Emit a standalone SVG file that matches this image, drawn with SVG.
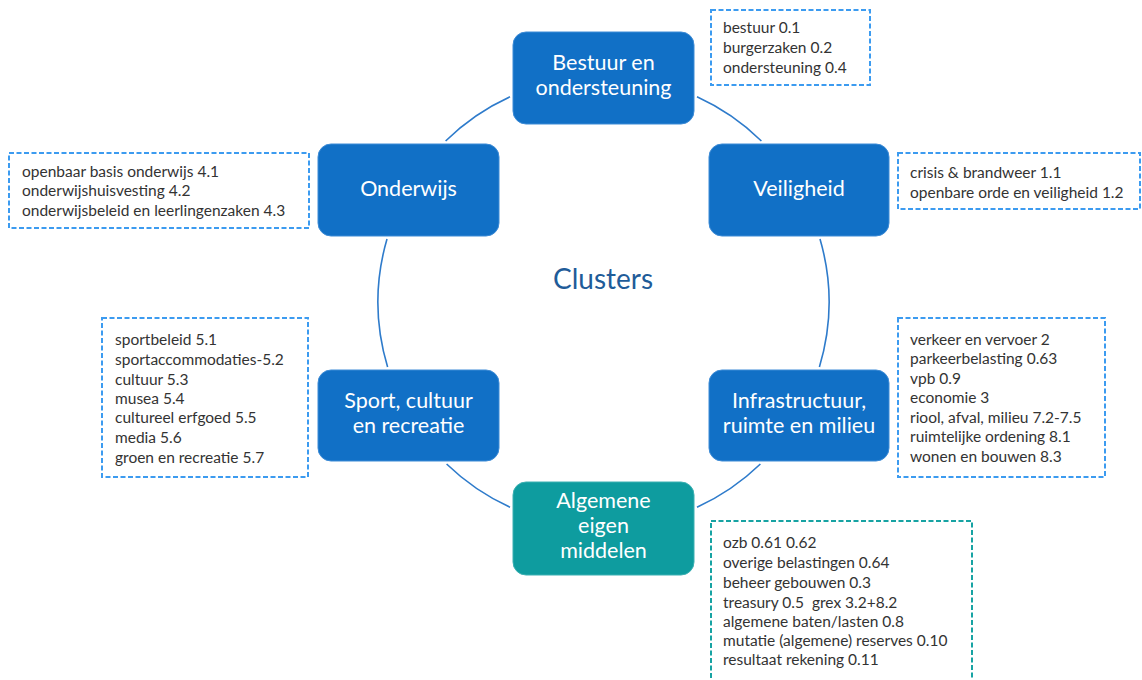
<svg xmlns="http://www.w3.org/2000/svg" width="1142" height="680" viewBox="0 0 1142 680">
<style>
.blue{fill:#1170C6;stroke:#3d8bd6;stroke-width:1}
.teal{fill:#0E9C9F;stroke:#3bb0b2;stroke-width:1}
.nt{font-family:Lato,"Open Sans",sans-serif;font-size:21.5px;fill:#fff;text-anchor:middle}
.note{fill:#fff;stroke:#3C9BF0;stroke-width:2;stroke-dasharray:5 2.5}
.noteT{fill:#fff;stroke:#17A3A3;stroke-width:2;stroke-dasharray:5 2.5}
.lt{font-family:Lato,"Open Sans",sans-serif;font-size:15.5px;fill:#333}
.arc{fill:none;stroke:#2E7BCB;stroke-width:1.6}
</style>
<rect width="1142" height="680" fill="#fff"/>
<g id="connectors">
<path class="arc" d="M697,96.8 A225.5,225.5 0 0 1 761.4,141"/>
<path class="arc" d="M820,239 A225.5,225.5 0 0 1 819.4,367"/>
<path class="arc" d="M760.4,464 A225.5,225.5 0 0 1 697,507.2"/>
<path class="arc" d="M510,507.2 A225.5,225.5 0 0 1 446.6,464"/>
<path class="arc" d="M387.6,367 A225.5,225.5 0 0 1 387,239"/>
<path class="arc" d="M445.6,141 A225.5,225.5 0 0 1 510,96.8"/>
</g>
<g id="center-label"><text x="603" y="289" font-family="Lato,'Open Sans',sans-serif" font-size="28" fill="#1F5C99" text-anchor="middle">Clusters</text></g>
<g id="node-bestuur">
<rect class="blue" x="513" y="32" width="181" height="92" rx="13"/>
<text class="nt" x="603.5" y="70">Bestuur en</text>
<text class="nt" x="603.5" y="95">ondersteuning</text>
</g>
<g id="node-onderwijs">
<rect class="blue" x="318" y="144" width="181" height="92" rx="13"/>
<text class="nt" x="408.5" y="196">Onderwijs</text>
</g>
<g id="node-veiligheid">
<rect class="blue" x="709" y="144" width="180" height="92" rx="13"/>
<text class="nt" x="799" y="196">Veiligheid</text>
</g>
<g id="node-sport">
<rect class="blue" x="318" y="370" width="181" height="91" rx="13"/>
<text class="nt" x="408.5" y="408">Sport, cultuur</text>
<text class="nt" x="408.5" y="433">en recreatie</text>
</g>
<g id="node-infra">
<rect class="blue" x="709" y="370" width="180" height="91" rx="13"/>
<text class="nt" x="799" y="408">Infrastructuur,</text>
<text class="nt" x="799" y="433">ruimte en milieu</text>
</g>
<g id="node-algemene">
<rect class="teal" x="513" y="482" width="181" height="93" rx="13"/>
<text class="nt" x="603.5" y="508">Algemene</text>
<text class="nt" x="603.5" y="533">eigen</text>
<text class="nt" x="603.5" y="558">middelen</text>
</g>
<g id="note-bestuur">
<rect class="note" x="711" y="10" width="159" height="75"/>
<text class="lt" x="723" y="33">bestuur 0.1</text>
<text class="lt" x="723" y="53">burgerzaken 0.2</text>
<text class="lt" x="723" y="73">ondersteuning 0.4</text>
</g>
<g id="note-onderwijs">
<rect class="note" x="9" y="153" width="300" height="75"/>
<text class="lt" x="22" y="177">openbaar basis onderwijs 4.1</text>
<text class="lt" x="22" y="196">onderwijshuisvesting 4.2</text>
<text class="lt" x="22" y="216">onderwijsbeleid en leerlingenzaken 4.3</text>
</g>
<g id="note-veiligheid">
<rect class="note" x="898" y="153" width="242" height="56"/>
<text class="lt" x="910" y="178">crisis &amp; brandweer 1.1</text>
<text class="lt" x="910" y="198">openbare orde en veiligheid 1.2</text>
</g>
<g id="note-sport">
<rect class="note" x="102" y="318" width="206" height="159"/>
<text class="lt" x="115" y="345">sportbeleid 5.1</text>
<text class="lt" x="115" y="365">sportaccommodaties-5.2</text>
<text class="lt" x="115" y="385">cultuur 5.3</text>
<text class="lt" x="115" y="404">musea 5.4</text>
<text class="lt" x="115" y="423">cultureel erfgoed 5.5</text>
<text class="lt" x="115" y="443">media 5.6</text>
<text class="lt" x="115" y="463">groen en recreatie 5.7</text>
</g>
<g id="note-infra">
<rect class="note" x="898" y="318" width="207" height="159"/>
<text class="lt" x="910" y="345">verkeer en vervoer 2</text>
<text class="lt" x="910" y="364">parkeerbelasting 0.63</text>
<text class="lt" x="910" y="384">vpb 0.9</text>
<text class="lt" x="910" y="403">economie 3</text>
<text class="lt" x="910" y="423">riool, afval, milieu 7.2-7.5</text>
<text class="lt" x="910" y="442">ruimtelijke ordening 8.1</text>
<text class="lt" x="910" y="462">wonen en bouwen 8.3</text>
</g>
<g id="note-algemene">
<rect class="noteT" x="711" y="521" width="261" height="170"/>
<text class="lt" x="723" y="548">ozb 0.61 0.62</text>
<text class="lt" x="723" y="568">overige belastingen 0.64</text>
<text class="lt" x="723" y="588">beheer gebouwen 0.3</text>
<text class="lt" x="723" y="608" xml:space="preserve">treasury 0.5  grex 3.2+8.2</text>
<text class="lt" x="723" y="627">algemene baten/lasten 0.8</text>
<text class="lt" x="723" y="646">mutatie (algemene) reserves 0.10</text>
<text class="lt" x="723" y="665">resultaat rekening 0.11</text>
</g>
</svg>
